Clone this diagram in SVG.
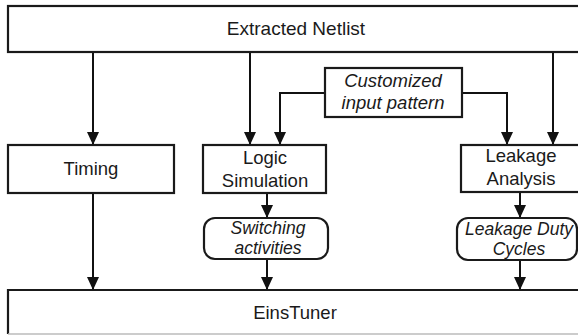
<svg xmlns="http://www.w3.org/2000/svg" width="578" height="335" viewBox="0 0 578 335">
<defs>
<style>
.box{fill:#fff;stroke:#1a1a1a;stroke-width:2.2}
.t{font-family:"Liberation Sans",Arial,sans-serif;font-size:18.5px;fill:#1a1a1a;text-anchor:middle}
.i{font-family:"Liberation Sans",Arial,sans-serif;font-size:17.5px;font-style:italic;fill:#1a1a1a;text-anchor:middle}
.c{fill:none;stroke:#111;stroke-width:2;marker-end:url(#ah)}
</style>
<marker id="ah" viewBox="0 0 13 12" refX="13" refY="6" markerWidth="13" markerHeight="12" markerUnits="userSpaceOnUse" orient="auto">
<path d="M0,0 L13,6 L0,12 Z" fill="#111"/>
</marker>
</defs>
<rect width="578" height="335" fill="#fff"/>
<g id="connectors">
<path class="c" d="M93,52 V145"/>
<path class="c" d="M250,52 V145"/>
<path class="c" d="M553,52 V145"/>
<path class="c" d="M325,93 H280 V145"/>
<path class="c" d="M462,93 H507 V145"/>
<path class="c" d="M93,193 V290"/>
<path class="c" d="M267,193 V218"/>
<path class="c" d="M267,259 V290"/>
<path class="c" d="M520,192 V218"/>
<path class="c" d="M520,260 V290"/>
</g>
<g id="netlist">
<rect class="box" x="8" y="6" width="590" height="46"/>
<text class="t" x="296" y="35" style="font-size:19px">Extracted Netlist</text>
</g>
<g id="timing">
<rect class="box" x="8" y="145" width="166" height="48"/>
<text class="t" x="91" y="175">Timing</text>
</g>
<g id="logic">
<rect class="box" x="203" y="145" width="123" height="48"/>
<text class="t" x="265" y="164">Logic</text>
<text class="t" x="265" y="187">Simulation</text>
</g>
<g id="custom">
<rect class="box" x="325" y="68" width="137" height="49"/>
<text class="i" x="393" y="87" style="font-size:18.5px">Customized</text>
<text class="i" x="393" y="109" style="font-size:18.5px">input pattern</text>
</g>
<g id="leakage">
<rect class="box" x="461" y="145" width="125" height="47"/>
<text class="t" x="521" y="162">Leakage</text>
<text class="t" x="521" y="185">Analysis</text>
</g>
<g id="switching">
<rect class="box" x="204" y="218" width="124" height="41" rx="11"/>
<text class="i" x="268" y="234">Switching</text>
<text class="i" x="268" y="254">activities</text>
</g>
<g id="dutycycles">
<rect class="box" x="457" y="218" width="120" height="42" rx="11"/>
<text class="i" x="519" y="235">Leakage Duty</text>
<text class="i" x="519" y="255">Cycles</text>
</g>
<g id="einstuner">
<rect x="8" y="290" width="580" height="44" fill="#fff"/>
<path d="M8,334 V290 H580" fill="none" stroke="#1a1a1a" stroke-width="2.2"/>
<line x1="8" y1="334" x2="578" y2="334" stroke="#bbb" stroke-width="1.5"/>
<text class="t" x="295" y="319">EinsTuner</text>
</g>
</svg>
